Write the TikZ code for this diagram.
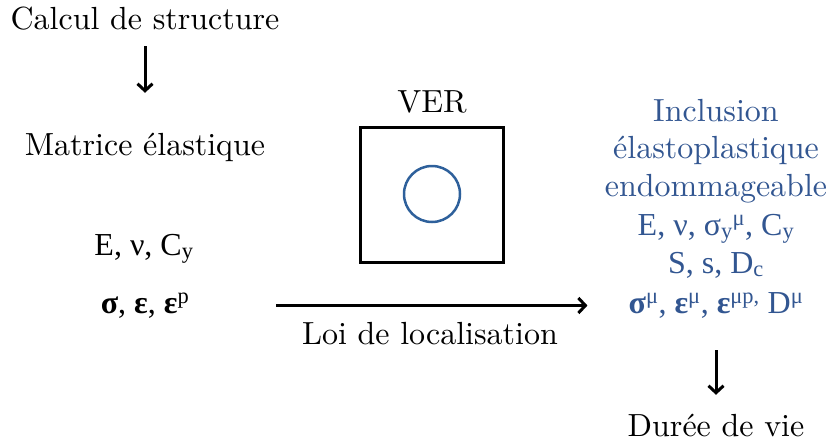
\documentclass[tikz,border=0pt]{standalone}
\usepackage{fontspec}
\setmainfont{lmroman10-regular.otf}[BoldFont=lmroman10-bold.otf]
\newfontfamily\tms{Liberation Serif}
\usetikzlibrary{arrows.meta}
\definecolor{dblue}{RGB}{50,86,145}
\definecolor{cblue}{RGB}{46,96,155}
\begin{document}
\begin{tikzpicture}[x=1pt,y=-1pt,
  lbl/.style={inner sep=0pt, anchor=base, text height=22pt, text depth=7pt, font=\fontsize{32}{38}\selectfont},
  frm/.style={lbl, font=\fontsize{32}{38}\selectfont\tms},
  arr/.style={line width=3pt, -{Straight Barb[length=7pt,width=15pt,line width=3pt]}}]
\useasboundingbox (0,0) rectangle (831,442);
% left column
\node[lbl] (calc) at (145,29) {Calcul de structure};
\node[lbl] (mat) at (145,155) {Matrice élastique};
\node[frm] (lpar) at (144,255) {E, ν, C\textsubscript{y}};
\node[frm] (lsig) at (145,313) {{\bfseries σ}, {\bfseries ε}, {\bfseries ε}\textsuperscript{p}};
% VER
\node[lbl] (ver) at (432,112) {VER};
\node[draw, line width=3pt, minimum width=143pt, minimum height=135pt, inner sep=0pt] (box) at (431.5,194.5) {};
\node[circle, draw=cblue, line width=2.5pt, minimum size=56pt, inner sep=0pt] (inc) at (432,194) {};
\node[lbl] (loi) at (430,344) {Loi de localisation};
% right column
\begin{scope}[every node/.append style={text=dblue}]
\node[lbl] (r1) at (716,121) {Inclusion};
\node[lbl] (r2) at (716,158) {élastoplastique};
\node[lbl] (r3) at (716,196) {endommageable};
\node[frm] (r4) at (716,235) {E, ν, σ\textsubscript{y}\textsuperscript{μ}, C\textsubscript{y}};
\node[frm] (r5) at (716,273) {S, s, D\textsubscript{c}};
\node[frm] (rsig) at (716,313) {{\bfseries σ}\textsuperscript{μ}, {\bfseries ε}\textsuperscript{μ}, {\bfseries ε}\textsuperscript{μp,} D\textsuperscript{μ}};
\end{scope}
\node[lbl] (duree) at (716,436) {Durée de vie};
% arrows
\draw[arr, shorten <=10pt, shorten >=40pt] (calc) -- (mat);
\draw[arr, shorten <=87pt, shorten >=41pt] (lsig) -- (rsig);
\draw[arr, shorten <=30pt, shorten >=19pt] (rsig) -- (duree);
\end{tikzpicture}
\end{document}
